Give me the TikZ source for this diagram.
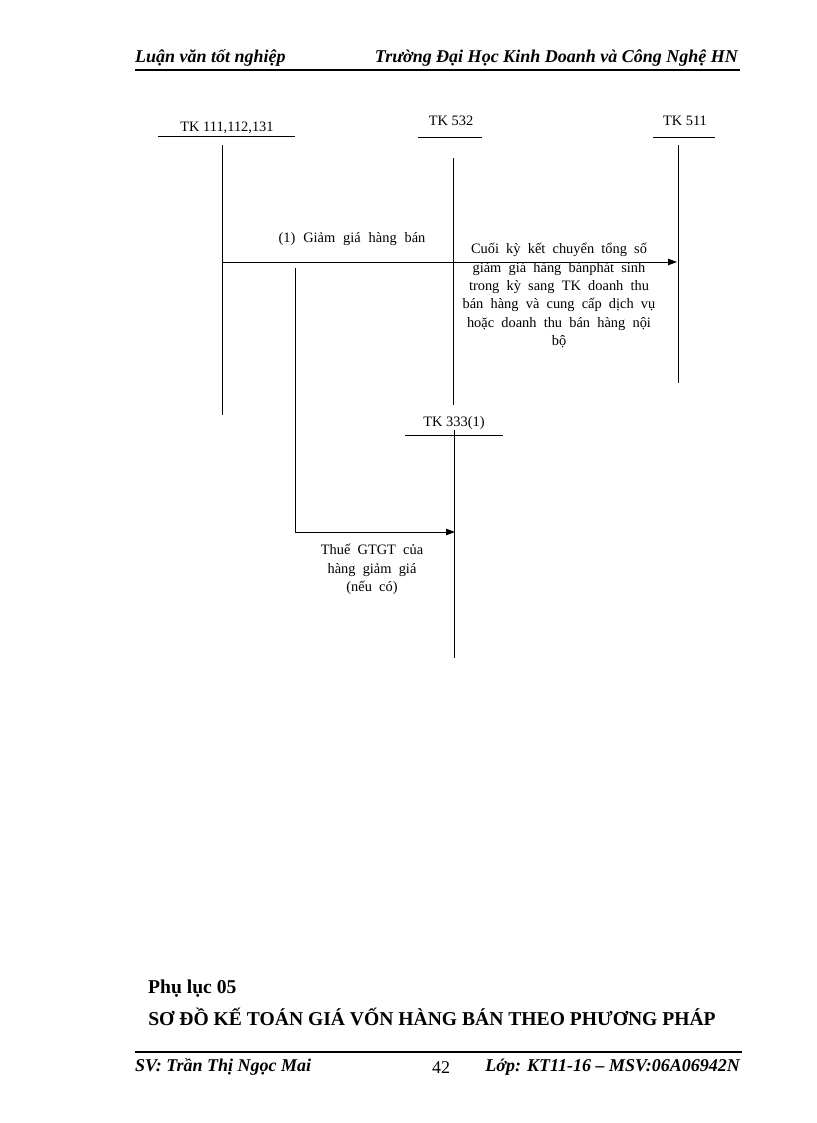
\documentclass[tikz,border=0pt]{standalone}
\usepackage{fontspec}
\setmainfont{Liberation Serif}
\usetikzlibrary{positioning,arrows.meta,calc}
\newcommand\widesp[1]{\spaceskip=#1em plus 0.1em\relax}

\begin{document}
\begin{tikzpicture}[x=1pt,y=-1pt,
  font=\fontsize{14.4}{18}\selectfont,
  >={Triangle[length=9pt,width=6.5pt]},
  acct/.style={inner sep=0pt,anchor=base},
  tline/.style={line width=0.9pt},
  note/.style={align=center,inner sep=0pt,anchor=north,font=\fontsize{14.4}{18.4}\selectfont\widesp{0.5}},
  head/.style={inner sep=0pt,font=\fontsize{18}{20}\selectfont\bfseries\itshape},
  big/.style={inner sep=0pt,font=\fontsize{19.6}{22}\selectfont\bfseries},
]
\useasboundingbox[fill=white] (0,0) rectangle (816,1123);

% header
\node[head,anchor=base west] (hleft) at (135,63) {Luận văn tốt nghiệp};
\node[head,anchor=base east] (hright) at (738,63) {Trường Đại Học Kinh Doanh và Công Nghệ HN};
\coordinate (hl1) at (135,70);
\coordinate (hl2) at (740,70);
\draw[line width=1.6pt] (hl1) -- (hl2);

% accounts
\node[acct] (tk111) at (227,132) {TK 111,112,131};
\node[acct] (tk532) at (451,126) {TK 532};
\node[acct] (tk511) at (685,126) {TK 511};
\node[acct] (tk333) at (454,426) {TK 333(1)};

\coordinate (u111a) at (158,136);  \coordinate (u111b) at (295,136);
\coordinate (u532a) at (418,137);  \coordinate (u532b) at (482,137);
\coordinate (u511a) at (653,137);  \coordinate (u511b) at (715,137);
\coordinate (u333a) at (405,435);  \coordinate (u333b) at (503,435);
\foreach \a in {111,532,511,333}{ \draw[tline] (u\a a) -- (u\a b); }

\coordinate (v111t) at (222,145);  \coordinate (v111b) at (222,415);
\coordinate (v532t) at (453,158);  \coordinate (v532b) at (453,405);
\coordinate (v511t) at (678,145);  \coordinate (v511b) at (678,383);
\coordinate (v333t) at (454,430);  \coordinate (v333b) at (454,658);
\foreach \a in {111,532,511,333}{ \draw[tline] (v\a t) -- (v\a b); }

% (1) giam gia
\coordinate (a1s) at (222,262);
\coordinate (a1e) at (677,262);
\draw[tline,->] (a1s) -- (a1e);
\node[acct,font=\fontsize{14.4}{18}\selectfont\widesp{0.55}] (lab1) at (352,243) {(1) Giảm giá hàng bán};
\node[note] (lab2) at (559,243) {Cuối kỳ kết chuyển tổng số\\giảm giá hàng bánphát sinh\\trong kỳ sang TK doanh thu\\bán hàng và cung cấp dịch vụ\\hoặc doanh thu bán hàng nội\\bộ};

% thue GTGT
\coordinate (a2s) at (295,268);
\coordinate (a2k) at (295,532);
\coordinate (a2e) at (455,532);
\draw[tline,->] (a2s) -- (a2k) -- (a2e);
\node[note] (lab3) at (372,544) {Thuế GTGT của\\hàng giảm giá\\(nếu có)};

% phu luc
\node[big,anchor=base west] (plc) at (148,993) {Phụ lục 05};
\node[big,anchor=base] (title) at (432,1025) {SƠ ĐỒ KẾ TOÁN GIÁ VỐN HÀNG BÁN THEO PHƯƠNG PHÁP};

% footer
\coordinate (fl1) at (135,1052);
\coordinate (fl2) at (742,1052);
\draw[line width=1.6pt] (fl1) -- (fl2);
\node[head,anchor=base west] (fleft) at (135,1071) {SV: Trần Thị Ngọc Mai};
\node[inner sep=0pt,anchor=base,font=\fontsize{18}{20}\selectfont] (pnum) at (441,1073) {42};
\node[head,anchor=base east] (fright) at (740,1071) {Lớp: KT11-16 – MSV:06A06942N};
\end{tikzpicture}
\end{document}
